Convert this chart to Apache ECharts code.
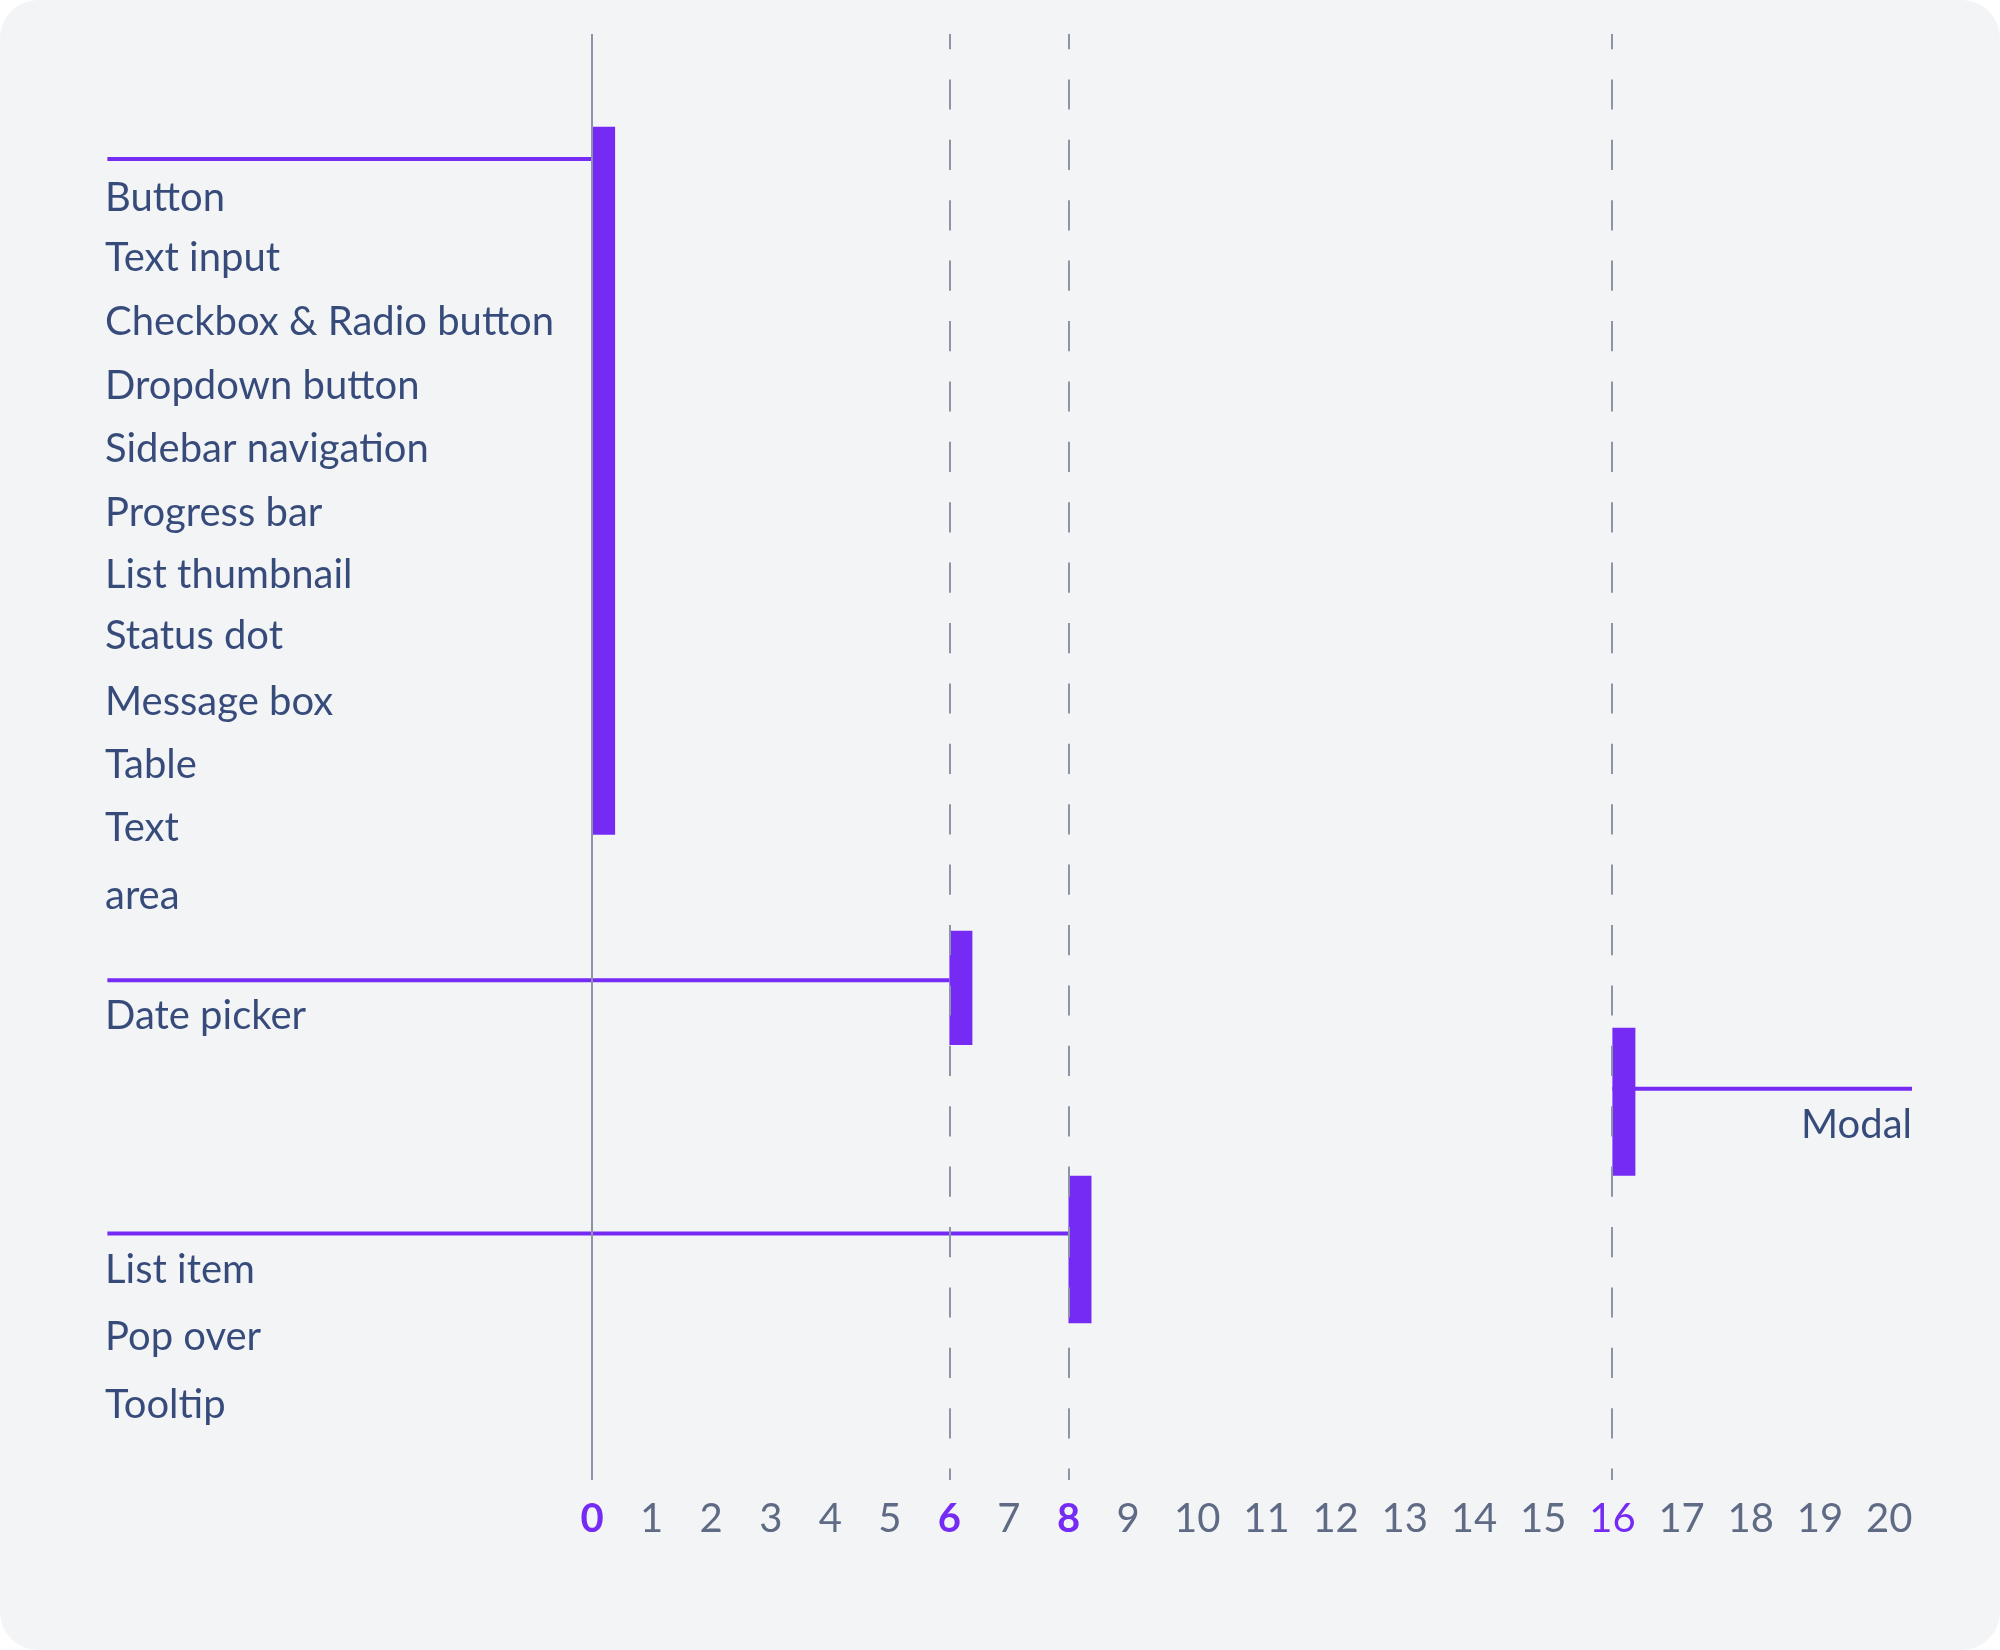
<!DOCTYPE html>
<html>
<head>
<meta charset="utf-8">
<script src="https://cdn.jsdelivr.net/npm/echarts@6/dist/echarts.min.js"></script>
<style>
  html, body { margin: 0; padding: 0; background: #ffffff; }
  #main { width: 2000px; height: 1650px; background: #f3f4f6; border-radius: 38px; }
</style>
</head>
<body>
<div id="main"></div>
<script>
// component names, top to bottom, and the row each one sits on
const components = ['Button', 'Text input', 'Checkbox & Radio button', 'Dropdown button',
  'Sidebar navigation', 'Progress bar', 'List thumbnail', 'Status dot', 'Message box',
  'Table', 'Text', 'area', 'Date picker', 'Modal', 'List item', 'Pop over', 'Tooltip'];
const componentRows = [0, 0.95, 1.96, 2.97, 3.96, 4.96, 5.95, 6.91, 7.94, 8.93, 9.92, 11.0,
  12.89, 14.6, 16.88, 17.94, 19.02];
const componentGroup = [0, 0, 0, 0, 0, 0, 0, 0, 0, 0, 0, 0, 1, 2, 3, 3, 3];

// groups: level on the x scale, connector row, bar span (rows), which side the names are on
const groupLevels = [0, 6, 16, 8];
const groupLinkRows = [-0.56, 12.37, 14.08, 16.36];
const groupBarFrom = [-1.07, 11.59, 13.12, 15.45];
const groupBarTo = [10.08, 13.39, 15.45, 17.77];
const groupSide = ['left', 'left', 'right', 'left'];

// x axis
const xTicks = [0, 1, 2, 3, 4, 5, 6, 7, 8, 9, 10, 11, 12, 13, 14, 15, 16, 17, 18, 19, 20];
const boldTicks = [0, 6, 8];
const accentTicks = [0, 6, 8, 16];
const xStart = -8.18, xEnd = 20.33;
const yStart = -2.53, yEnd = 20.24;

const purple = '#762bf4';
const navy = '#08215c';
const grey = '#5f6b85';
const rule = '#8b95a7';
const font = 'Lato';

// two-digit ticks take a wider step than one-digit ones
const wideStep = 1.162;
function toLayout(v) { return v <= 9 ? v : 9 + (v - 9) * wideStep; }
function fromLayout(p) { return p <= 9 ? p : 9 + (p - 9) / wideStep; }

var myChart = echarts.init(document.getElementById('main'));

let nameData = components.map(function (name, i) {
  let g = componentGroup[i];
  let right = groupSide[g] === 'right';
  return {
    name: name,
    value: [toLayout(right ? xEnd : xStart), componentRows[i]],
    label: { position: right ? 'left' : 'right' }
  };
});

let linkSeries = groupLevels.map(function (lv, i) {
  let a = groupSide[i] === 'right' ? toLayout(lv) : toLayout(xStart + 0.04);
  let b = groupSide[i] === 'right' ? toLayout(xEnd) : toLayout(lv);
  return {
    type: 'line',
    data: [[a, groupLinkRows[i]], [b, groupLinkRows[i]]],
    symbol: 'none',
    lineStyle: { color: purple, width: 4 },
    silent: true,
    z: 2
  };
});

let option = {
  animation: false,
  grid: { left: 105, right: 88, top: 34, bottom: 170 },
  xAxis: {
    type: 'value',
    min: toLayout(xStart),
    max: toLayout(xEnd),
    axisLine: { show: false },
    axisTick: { show: false },
    splitLine: { show: false },
    axisLabel: {
      customValues: xTicks.map(toLayout),
      margin: 19,
      formatter: function (v) {
        let t = Math.round(fromLayout(v));
        if (boldTicks.indexOf(t) >= 0) return '{b|' + t + '}';
        if (accentTicks.indexOf(t) >= 0) return '{a|' + t + '}';
        return '{n|' + t + '}';
      },
      rich: {
        n: { color: grey, fontFamily: font, fontSize: 40 },
        a: { color: purple, fontFamily: font, fontSize: 40 },
        b: { color: purple, fontFamily: font, fontSize: 40, fontWeight: 'bold' }
      }
    }
  },
  yAxis: {
    type: 'value',
    inverse: true,
    min: yStart,
    max: yEnd,
    show: false
  },
  series: linkSeries.concat([
    {
      type: 'custom',
      silent: true,
      z: 3,
      encode: { x: 0, y: [1, 2] },
      data: groupLevels.map(function (lv, i) { return [toLayout(lv), groupBarFrom[i], groupBarTo[i]]; }),
      renderItem: function (params, api) {
        let top = api.coord([api.value(0), api.value(1)]);
        let bottom = api.coord([api.value(0), api.value(2)]);
        return {
          type: 'rect',
          shape: { x: top[0], y: top[1], width: 23, height: bottom[1] - top[1] },
          style: { fill: purple }
        };
      }
    },
    {
      type: 'scatter',
      silent: true,
      symbolSize: 0,
      z: 5,
      data: nameData,
      label: {
        show: true,
        distance: 0,
        offset: [0, 3],
        formatter: '{b}',
        color: navy,
        fontFamily: font,
        fontSize: 40
      },
      markLine: {
        silent: true,
        symbol: 'none',
        label: { show: false },
        z: 6,
        data: groupLevels.slice().sort(function (a, b) { return a - b; }).map(function (lv) {
          return {
            xAxis: toLayout(lv),
            lineStyle: lv === 0
              ? { color: rule, width: 2, type: 'solid' }
              : { color: rule, width: 2, type: [30.2, 30.2], dashOffset: 15 }
          };
        })
      }
    }
  ])
};
myChart.setOption(option);
</script>
</body>
</html>
